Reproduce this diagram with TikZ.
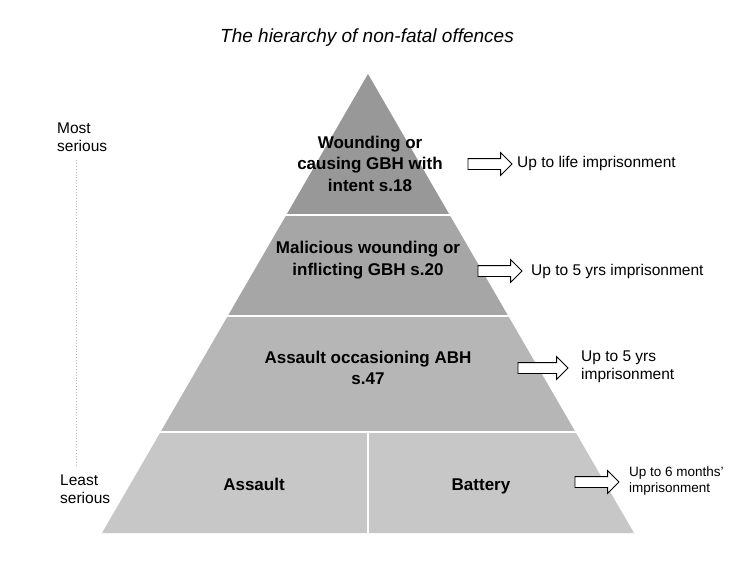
\documentclass[tikz,border=0pt]{standalone}
\usepackage{fontspec}
\setmainfont{Liberation Sans}
\usetikzlibrary{shapes.arrows,calc}
\definecolor{tierA}{HTML}{989898}
\definecolor{tierB}{HTML}{A6A6A6}
\definecolor{tierC}{HTML}{B6B6B6}
\definecolor{tierD}{HTML}{C7C7C7}
\begin{document}
\begin{tikzpicture}[x=1pt,y=-1pt,
  blockarrow/.style={single arrow, draw=black, fill=white, line width=0.8pt,
    minimum height=44pt, single arrow head extend=6pt,
    inner sep=0pt, outer sep=0pt, anchor=west},
  tiertext/.style={font=\fontsize{17}{21.5}\selectfont\bfseries, align=center, text=black},
  sidetext/.style={font=\fontsize{15.5}{18}\selectfont, align=left, anchor=west, text=black, inner sep=0pt},
  smalltext/.style={font=\fontsize{13.5}{16}\selectfont, align=left, anchor=west, text=black, inner sep=0pt},
  gap/.style={white, line width=2.6pt}]
\useasboundingbox (0,0) rectangle (736,566);
\fill[white] (0,0) rectangle (736,566);

% geometry
\coordinate (A) at (368,74);
\coordinate (BL) at (102,533);
\coordinate (BR) at (634,533);
\coordinate (L1) at ($(A)!0.3072!(BL)$);
\coordinate (R1) at ($(A)!0.3072!(BR)$);
\coordinate (L2) at ($(A)!0.5272!(BL)$);
\coordinate (R2) at ($(A)!0.5272!(BR)$);
\coordinate (L3) at ($(A)!0.7800!(BL)$);
\coordinate (R3) at ($(A)!0.7800!(BR)$);
\coordinate (M3) at ($(L3)!0.5!(R3)$);
\coordinate (MB) at ($(BL)!0.5!(BR)$);

% tiers
\fill[tierA] (A) -- (R1) -- (L1) -- cycle;
\fill[tierB] (L1) -- (R1) -- (R2) -- (L2) -- cycle;
\fill[tierC] (L2) -- (R2) -- (R3) -- (L3) -- cycle;
\fill[tierD] (L3) -- (R3) -- (BR) -- (BL) -- cycle;
\draw[gap] ($(L1)+(-3,0)$) -- ($(R1)+(3,0)$);
\draw[gap] ($(L2)+(-3,0)$) -- ($(R2)+(3,0)$);
\draw[gap] ($(L3)+(-3,0)$) -- ($(R3)+(3,0)$);
\draw[white, line width=1.8pt] (M3) -- (MB);

% title
\node[font=\fontsize{19}{22}\selectfont\itshape] (title) at (367,38) {The hierarchy of non-fatal offences};

% tier texts
\node[tiertext] (t1) at (370,163.5) {Wounding or\\causing GBH with\\intent s.18};
\node[tiertext] (t2) at (368,260) {Malicious wounding or\\inflicting GBH s.20};
\node[tiertext] (t3) at (368,368) {Assault occasioning ABH\\s.47};
\node[tiertext, anchor=base] (t4a) at (254,490) {Assault};
\node[tiertext, anchor=base] (t4b) at (481,490) {Battery};

% side labels
\node[sidetext] (most) at (57,137) {Most\\serious};
\node[sidetext] (least) at (60,489) {Least\\serious};
\coordinate (dtop) at (76,160);
\coordinate (dbot) at (76,465);
\draw[gray!55, dotted, line width=0.9pt] (dtop) -- (dbot);

% arrows and penalties
\node[blockarrow] (a1) at (468,164) {\rule{0pt}{10pt}};
\node[sidetext] (p1) at ($(a1.east)+(5,-1)$) {Up to life imprisonment};
\node[blockarrow] (a2) at (478,271) {\rule{0pt}{10pt}};
\node[sidetext] (p2) at ($(a2.east)+(9,0)$) {Up to 5 yrs imprisonment};
\node[blockarrow, minimum height=50pt] (a3) at (518,368) {\rule{0pt}{10pt}};
\node[sidetext] (p3) at ($(a3.east)+(13,-1)$) {Up to 5 yrs\\imprisonment};
\node[blockarrow] (a4) at (575,482) {\rule{0pt}{10pt}};
\node[smalltext] (p4) at ($(a4.east)+(10,-1)$) {Up to 6 months'\\imprisonment};
\end{tikzpicture}
\end{document}
